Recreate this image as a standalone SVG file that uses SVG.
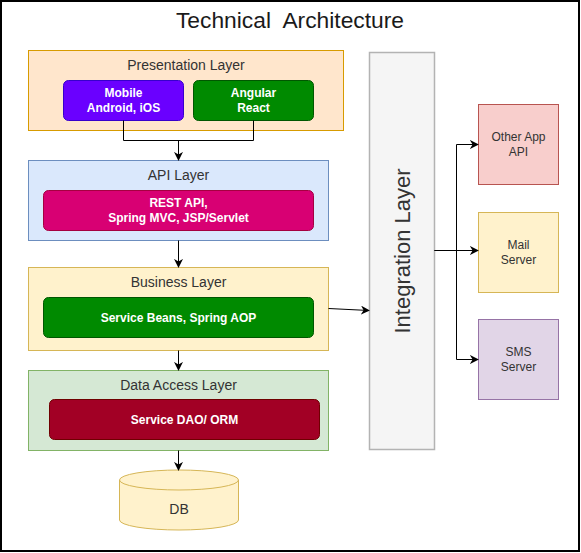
<svg xmlns="http://www.w3.org/2000/svg" width="581" height="553" viewBox="0 0 581 553">
<defs>
<style>
.t{font-family:"Liberation Sans",Arial,sans-serif;text-anchor:middle;fill:#333333}
.lt{font-size:14px}
.w{font-family:"Liberation Sans",Arial,sans-serif;text-anchor:middle;fill:#ffffff;font-size:12px;font-weight:bold}
.s{font-size:12px}
.c{fill:none;stroke:#000000;stroke-width:1}
</style>
<marker id="ah" viewBox="0 0 10 10" refX="9" refY="5" markerWidth="9" markerHeight="9" markerUnits="userSpaceOnUse" orient="auto">
<path d="M0,0 L10,5 L0,10 L3,5 Z" fill="#000000"/>
</marker>
</defs>
<rect x="0" y="0" width="581" height="553" fill="#ffffff"/>
<rect x="1" y="1" width="578" height="550" fill="#ffffff" stroke="#000000" stroke-width="2"/>
<text class="t" x="290" y="28" font-size="22.8" style="fill:#1a1a1a" xml:space="preserve">Technical  Architecture</text>

<g id="presentation-layer">
<rect x="28.5" y="50.5" width="315" height="80" fill="#ffe6cc" stroke="#d79b00"/>
<text class="t lt" x="186" y="70">Presentation Layer</text>
</g>
<g id="mobile">
<rect x="63.5" y="80.5" width="120" height="40" rx="5" fill="#6a00ff" stroke="#3700cc"/>
<text class="w" x="123.5" y="97">Mobile</text>
<text class="w" x="123.5" y="112">Android, iOS</text>
</g>
<g id="angular">
<rect x="193.5" y="80.5" width="120" height="40" rx="5" fill="#008a00" stroke="#005700"/>
<text class="w" x="253.5" y="97">Angular</text>
<text class="w" x="253.5" y="112">React</text>
</g>

<g id="api-layer">
<rect x="28.5" y="160.5" width="300" height="80" fill="#dae8fc" stroke="#6c8ebf"/>
<text class="t lt" x="178.5" y="180">API Layer</text>
</g>
<g id="rest">
<rect x="43.5" y="190.5" width="270" height="40" rx="5" fill="#d80073" stroke="#a50040"/>
<text class="w" x="178.5" y="207">REST API,</text>
<text class="w" x="178.5" y="222">Spring MVC, JSP/Servlet</text>
</g>

<g id="business-layer">
<rect x="28.5" y="267.5" width="300" height="83" fill="#fff2cc" stroke="#d6b656"/>
<text class="t lt" x="178.5" y="287">Business Layer</text>
</g>
<g id="service-beans">
<rect x="43.5" y="297.5" width="270" height="40" rx="5" fill="#008a00" stroke="#005700"/>
<text class="w" x="178.5" y="321.5">Service Beans, Spring AOP</text>
</g>

<g id="data-access-layer">
<rect x="28.5" y="370.5" width="300" height="80" fill="#d5e8d4" stroke="#82b366"/>
<text class="t lt" x="178.5" y="390">Data Access Layer</text>
</g>
<g id="service-dao">
<rect x="49.5" y="399.5" width="270" height="40" rx="5" fill="#a20025" stroke="#6f0000"/>
<text class="w" x="184.5" y="423.5">Service DAO/ ORM</text>
</g>

<g id="db">
<path d="M119.5,480 A59.5,10 0 0 1 238.5,480 L238.5,520 A59.5,10 0 0 1 119.5,520 Z" fill="#fff2cc" stroke="#d6b656"/>
<path d="M119.5,480 A59.5,10 0 0 0 238.5,480" fill="none" stroke="#d6b656"/>
<text class="t lt" x="179" y="514">DB</text>
</g>

<g id="integration-layer">
<rect x="369.5" y="52.5" width="65" height="397" fill="#f5f5f5" stroke="#b3b3b3" stroke-width="1.5"/>
<text class="t" x="0" y="0" font-size="22" transform="translate(410,251) rotate(-90)">Integration Layer</text>
</g>

<g id="other-app-api">
<rect x="478.5" y="104.5" width="80" height="80" fill="#f8cecc" stroke="#b85450"/>
<text class="t s" x="518.5" y="141">Other App</text>
<text class="t s" x="518.5" y="156">API</text>
</g>
<g id="mail-server">
<rect x="478.5" y="212.5" width="80" height="80" fill="#fff2cc" stroke="#d6b656"/>
<text class="t s" x="518.5" y="249">Mail</text>
<text class="t s" x="518.5" y="264">Server</text>
</g>
<g id="sms-server">
<rect x="478.5" y="319.5" width="80" height="80" fill="#e1d5e7" stroke="#9673a6"/>
<text class="t s" x="518.5" y="356">SMS</text>
<text class="t s" x="518.5" y="371">Server</text>
</g>

<g id="connectors">
<path class="c" d="M123.5,120.5 V140.5 H253.5 V120.5"/>
<path class="c" d="M178.5,140.5 V160" marker-end="url(#ah)"/>
<path class="c" d="M178.5,240.5 V267" marker-end="url(#ah)"/>
<path class="c" d="M178.5,350.5 V370" marker-end="url(#ah)"/>
<path class="c" d="M178.5,450.5 V470" marker-end="url(#ah)"/>
<path class="c" d="M328.5,308.5 L369,310.5" marker-end="url(#ah)"/>
<path class="c" d="M434.5,250.5 H456.5 V144.5 H478" marker-end="url(#ah)"/>
<path class="c" d="M434.5,250.5 H478" marker-end="url(#ah)"/>
<path class="c" d="M456.5,250.5 V359.5 H478" marker-end="url(#ah)"/>
</g>
</svg>
